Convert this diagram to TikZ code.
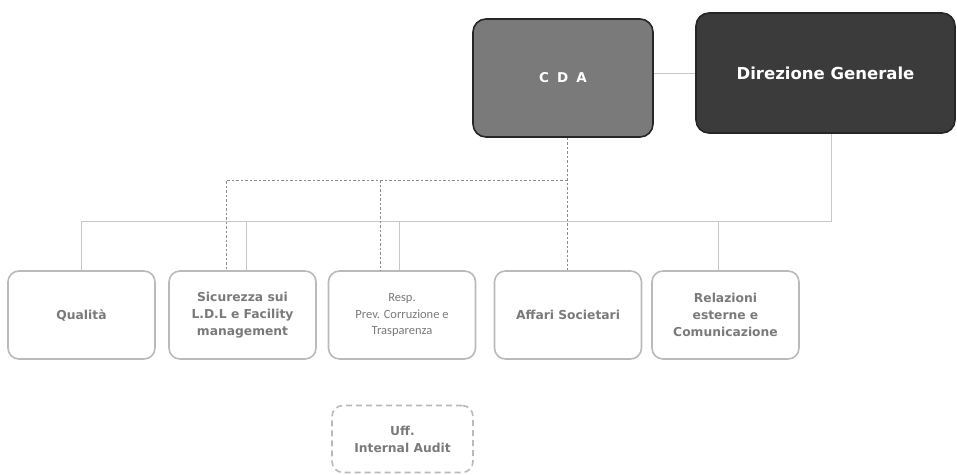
\documentclass[tikz,border=0pt]{standalone}
\usepackage{fontspec}
\setmainfont{DejaVu Sans}
\newfontfamily\carl{Carlito}
\begin{document}
\begin{tikzpicture}[x=1pt,y=-1pt,
  topbox/.style={draw=black!85, line width=1.6pt, rounded corners=13pt, align=center, text=white, font=\bfseries, inner sep=0pt},
  unitbox/.style={draw=black!27, line width=1.6pt, rounded corners=11pt, fill=white, align=center, text=black!52, font=\bfseries\fontsize{12.3}{17}\selectfont, minimum width=147pt, minimum height=88pt, inner sep=0pt},
  solidline/.style={draw=black!22, line width=0.8pt},
  dashline/.style={draw=black!45, line width=0.6pt, dash pattern=on 2.5pt off 2pt}]
\useasboundingbox (0,0) rectangle (957,474);
\fill[white] (0,0) rectangle (957,474);
% top boxes
\node[topbox, fill=black!52, minimum width=180pt, minimum height=118pt, font=\bfseries\fontsize{13.5}{15}\selectfont] (cda) at (563,78) {C\hspace{8pt}D\hspace{8pt}A};
\node[topbox, fill=black!77, minimum width=259pt, minimum height=120pt, font=\bfseries\fontsize{16.5}{19}\selectfont] (dg) at (825.5,73) {Direzione Generale};
% unit boxes
\node[unitbox] (qual) at (81.5,315) {Qualità};
\node[unitbox] (sic) at (242.5,315) {Sicurezza sui\\L.D.L e Facility\\management};
\node[unitbox, font=\carl\fontsize{12.5}{16.5}\selectfont] (resp) at (402,315) {Resp.\\Prev. Corruzione e\\Trasparenza};
\node[unitbox] (aff) at (568,315) {Affari Societari};
\node[unitbox] (rel) at (725.5,315) {Relazioni\\esterne e\\Comunicazione};
\node[unitbox, dash pattern=on 6pt off 4pt, minimum width=141pt, minimum height=67pt] (aud) at (402.5,439) {Uff.\\Internal Audit};
% solid connectors
\coordinate (busR) at (831,221);
\coordinate (busL) at (82,221);
\draw[solidline] (dg.west) -- (dg.west -| cda.east);
\draw[solidline] (dg.south -| busR) -- (busR) -- (busL);
\draw[solidline] (qual.north) -- (qual.north |- busL);
\draw[solidline] ([xshift=3.5pt]sic.north) -- ([xshift=3.5pt]sic.north |- busL);
\draw[solidline] ([xshift=-3pt]resp.north) -- ([xshift=-3pt]resp.north |- busL);
\draw[solidline] ([xshift=-7.5pt]rel.north) -- ([xshift=-7.5pt]rel.north |- busL);
% dashed connectors
\coordinate (dL) at (226,180);
\coordinate (dR) at (567,180);
\draw[dashline] (cda.south -| dR) -- (aff.north -| dR);
\draw[dashline] (dR) -- (dL) -- (dL |- sic.north);
\draw[dashline] (380,180) -- (resp.north -| 380,0);
\end{tikzpicture}
\end{document}
